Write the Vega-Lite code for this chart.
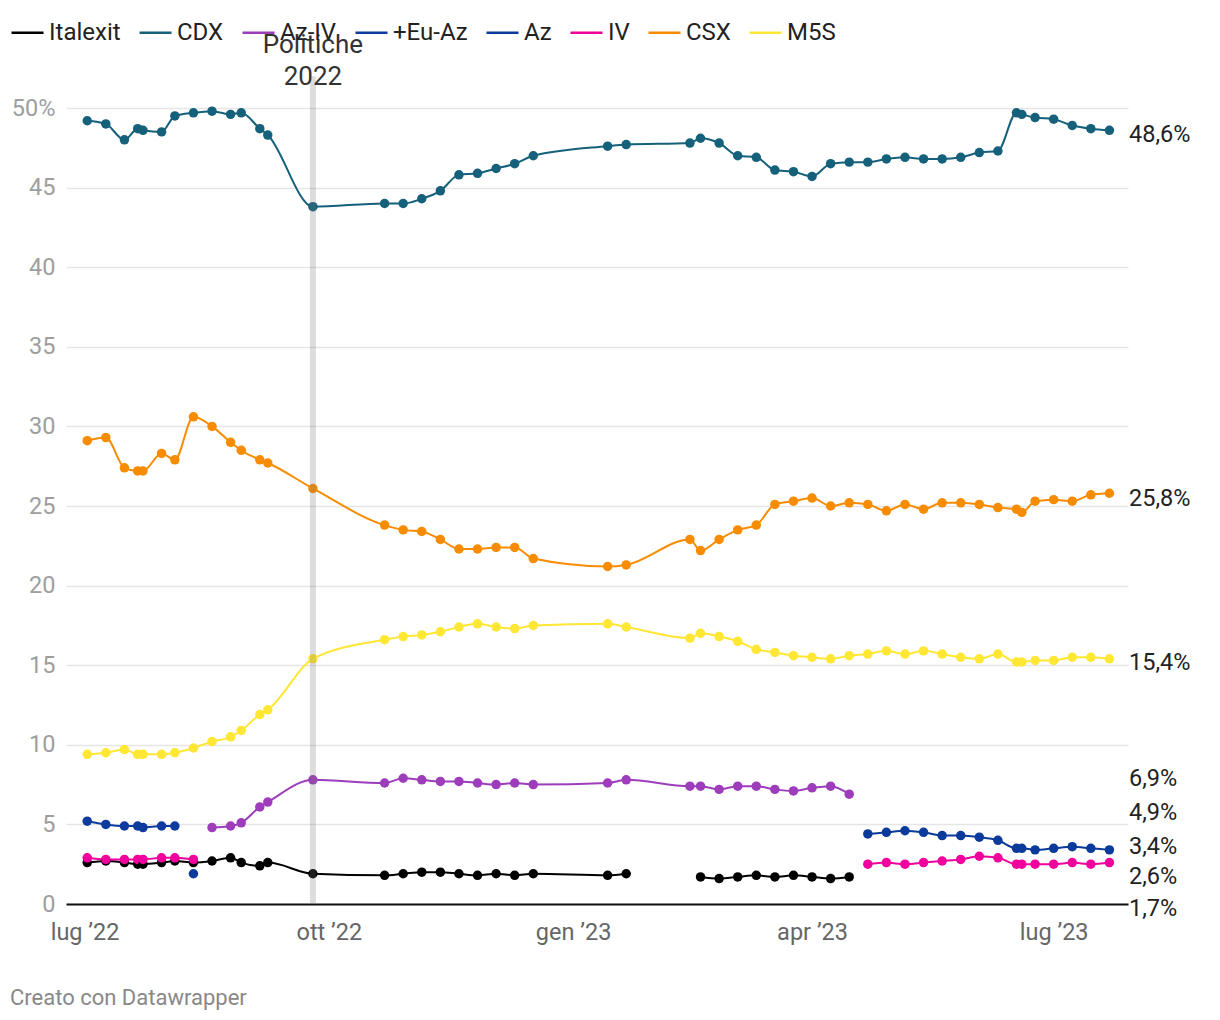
{
  "$schema": "https://vega.github.io/schema/vega-lite/v6.json",
  "width": 1062,
  "height": 796,
  "autosize": {"type": "none"},
  "padding": {"left": 66, "top": 108, "right": 92, "bottom": 116},
  "background": "white",
  "title": {"text": "Creato con Datawrapper", "orient": "bottom", "anchor": "start", "frame": "group", "dx": -56, "offset": 44, "fontSize": 22, "fontWeight": "normal", "color": "#888888", "font": "Roboto"},
  "config": {
    "font": "Roboto",
    "view": {"stroke": null},
    "text": {"font": "Roboto", "fontSize": 23.5, "color": "#222222", "align": "left", "baseline": "middle"},
    "legend": {"orient": "none", "legendX": -56, "legendY": -93, "direction": "horizontal", "symbolType": "stroke", "symbolSize": 1024, "symbolStrokeWidth": 2.5, "labelFontSize": 24, "labelColor": "#222222", "labelOffset": 4, "columnPadding": 13, "labelFont": "Roboto", "padding": 0}
  },
  "datasets": {
    "polls": [
      {"d": "2022-07-02", "Italexit": 2.6, "CDX": 49.2, "+Eu-Az": 5.2, "IV": 2.9, "CSX": 29.1, "M5S": 9.4},
      {"d": "2022-07-09", "Italexit": 2.7, "CDX": 49.0, "+Eu-Az": 5.0, "IV": 2.8, "CSX": 29.3, "M5S": 9.5},
      {"d": "2022-07-16", "Italexit": 2.6, "CDX": 48.0, "+Eu-Az": 4.9, "IV": 2.8, "CSX": 27.4, "M5S": 9.7},
      {"d": "2022-07-21", "Italexit": 2.5, "CDX": 48.7, "+Eu-Az": 4.9, "IV": 2.8, "CSX": 27.2, "M5S": 9.4},
      {"d": "2022-07-23", "Italexit": 2.5, "CDX": 48.6, "+Eu-Az": 4.8, "IV": 2.8, "CSX": 27.2, "M5S": 9.4},
      {"d": "2022-07-30", "Italexit": 2.6, "CDX": 48.5, "+Eu-Az": 4.9, "IV": 2.9, "CSX": 28.3, "M5S": 9.4},
      {"d": "2022-08-04", "Italexit": 2.7, "CDX": 49.5, "+Eu-Az": 4.9, "IV": 2.9, "CSX": 27.9, "M5S": 9.5},
      {"d": "2022-08-11", "Italexit": 2.6, "CDX": 49.7, "Az": 1.9, "IV": 2.8, "CSX": 30.6, "M5S": 9.8},
      {"d": "2022-08-18", "Italexit": 2.7, "CDX": 49.8, "Az-IV": 4.8, "CSX": 30.0, "M5S": 10.2},
      {"d": "2022-08-25", "Italexit": 2.9, "CDX": 49.6, "Az-IV": 4.9, "CSX": 29.0, "M5S": 10.5},
      {"d": "2022-08-29", "Italexit": 2.6, "CDX": 49.7, "Az-IV": 5.1, "CSX": 28.5, "M5S": 10.9},
      {"d": "2022-09-05", "Italexit": 2.4, "CDX": 48.7, "Az-IV": 6.1, "CSX": 27.9, "M5S": 11.9},
      {"d": "2022-09-08", "Italexit": 2.6, "CDX": 48.3, "Az-IV": 6.4, "CSX": 27.7, "M5S": 12.2},
      {"d": "2022-09-25", "Italexit": 1.9, "CDX": 43.8, "Az-IV": 7.8, "CSX": 26.1, "M5S": 15.4},
      {"d": "2022-10-22", "Italexit": 1.8, "CDX": 44.0, "Az-IV": 7.6, "CSX": 23.8, "M5S": 16.6},
      {"d": "2022-10-29", "Italexit": 1.9, "CDX": 44.0, "Az-IV": 7.9, "CSX": 23.5, "M5S": 16.8},
      {"d": "2022-11-05", "Italexit": 2.0, "CDX": 44.3, "Az-IV": 7.8, "CSX": 23.4, "M5S": 16.9},
      {"d": "2022-11-12", "Italexit": 2.0, "CDX": 44.8, "Az-IV": 7.7, "CSX": 22.9, "M5S": 17.1},
      {"d": "2022-11-19", "Italexit": 1.9, "CDX": 45.8, "Az-IV": 7.7, "CSX": 22.3, "M5S": 17.4},
      {"d": "2022-11-26", "Italexit": 1.8, "CDX": 45.9, "Az-IV": 7.6, "CSX": 22.3, "M5S": 17.6},
      {"d": "2022-12-03", "Italexit": 1.9, "CDX": 46.2, "Az-IV": 7.5, "CSX": 22.4, "M5S": 17.4},
      {"d": "2022-12-10", "Italexit": 1.8, "CDX": 46.5, "Az-IV": 7.6, "CSX": 22.4, "M5S": 17.3},
      {"d": "2022-12-17", "Italexit": 1.9, "CDX": 47.0, "Az-IV": 7.5, "CSX": 21.7, "M5S": 17.5},
      {"d": "2023-01-14", "Italexit": 1.8, "CDX": 47.6, "Az-IV": 7.6, "CSX": 21.2, "M5S": 17.6},
      {"d": "2023-01-21", "Italexit": 1.9, "CDX": 47.7, "Az-IV": 7.8, "CSX": 21.3, "M5S": 17.4},
      {"d": "2023-02-14", "CDX": 47.8, "Az-IV": 7.4, "CSX": 22.9, "M5S": 16.7},
      {"d": "2023-02-18", "Italexit": 1.7, "CDX": 48.1, "Az-IV": 7.4, "CSX": 22.2, "M5S": 17.0},
      {"d": "2023-02-25", "Italexit": 1.6, "CDX": 47.8, "Az-IV": 7.2, "CSX": 22.9, "M5S": 16.8},
      {"d": "2023-03-04", "Italexit": 1.7, "CDX": 47.0, "Az-IV": 7.4, "CSX": 23.5, "M5S": 16.5},
      {"d": "2023-03-11", "Italexit": 1.8, "CDX": 46.9, "Az-IV": 7.4, "CSX": 23.8, "M5S": 16.0},
      {"d": "2023-03-18", "Italexit": 1.7, "CDX": 46.1, "Az-IV": 7.2, "CSX": 25.1, "M5S": 15.8},
      {"d": "2023-03-25", "Italexit": 1.8, "CDX": 46.0, "Az-IV": 7.1, "CSX": 25.3, "M5S": 15.6},
      {"d": "2023-04-01", "Italexit": 1.7, "CDX": 45.7, "Az-IV": 7.3, "CSX": 25.5, "M5S": 15.5},
      {"d": "2023-04-08", "Italexit": 1.6, "CDX": 46.5, "Az-IV": 7.4, "CSX": 25.0, "M5S": 15.4},
      {"d": "2023-04-15", "Italexit": 1.7, "CDX": 46.6, "Az-IV": 6.9, "CSX": 25.2, "M5S": 15.6},
      {"d": "2023-04-22", "CDX": 46.6, "Az": 4.4, "IV": 2.5, "CSX": 25.1, "M5S": 15.7},
      {"d": "2023-04-29", "CDX": 46.8, "Az": 4.5, "IV": 2.6, "CSX": 24.7, "M5S": 15.9},
      {"d": "2023-05-06", "CDX": 46.9, "Az": 4.6, "IV": 2.5, "CSX": 25.1, "M5S": 15.7},
      {"d": "2023-05-13", "CDX": 46.8, "Az": 4.5, "IV": 2.6, "CSX": 24.8, "M5S": 15.9},
      {"d": "2023-05-20", "CDX": 46.8, "Az": 4.3, "IV": 2.7, "CSX": 25.2, "M5S": 15.7},
      {"d": "2023-05-27", "CDX": 46.9, "Az": 4.3, "IV": 2.8, "CSX": 25.2, "M5S": 15.5},
      {"d": "2023-06-03", "CDX": 47.2, "Az": 4.2, "IV": 3.0, "CSX": 25.1, "M5S": 15.4},
      {"d": "2023-06-10", "CDX": 47.3, "Az": 4.0, "IV": 2.9, "CSX": 24.9, "M5S": 15.7},
      {"d": "2023-06-17", "CDX": 49.7, "Az": 3.5, "IV": 2.5, "CSX": 24.8, "M5S": 15.2},
      {"d": "2023-06-19", "CDX": 49.6, "Az": 3.5, "IV": 2.5, "CSX": 24.6, "M5S": 15.2},
      {"d": "2023-06-24", "CDX": 49.4, "Az": 3.4, "IV": 2.5, "CSX": 25.3, "M5S": 15.3},
      {"d": "2023-07-01", "CDX": 49.3, "Az": 3.5, "IV": 2.5, "CSX": 25.4, "M5S": 15.3},
      {"d": "2023-07-08", "CDX": 48.9, "Az": 3.6, "IV": 2.6, "CSX": 25.3, "M5S": 15.5},
      {"d": "2023-07-15", "CDX": 48.7, "Az": 3.5, "IV": 2.5, "CSX": 25.7, "M5S": 15.5},
      {"d": "2023-07-22", "CDX": 48.6, "Az": 3.4, "IV": 2.6, "CSX": 25.8, "M5S": 15.4}
    ]
  },
  "data": {"name": "polls"},
  "encoding": {
    "x": {
      "field": "d", "type": "temporal",
      "scale": {"domain": [{"year": 2022, "month": 6, "date": 24}, {"year": 2023, "month": 7, "date": 29}]},
      "axis": {
        "title": null, "grid": false, "ticks": false, "domain": true, "domainColor": "#111111", "domainWidth": 2,
        "labelPadding": 16, "labelFontSize": 23.5, "labelColor": "#666666", "labelFlush": false, "labelFont": "Roboto",
        "values": [{"year": 2022, "month": 7, "date": 1}, {"year": 2022, "month": 10, "date": 1}, {"year": 2023, "month": 1, "date": 1}, {"year": 2023, "month": 4, "date": 1}, {"year": 2023, "month": 7, "date": 1}],
        "labelExpr": "['gen','feb','mar','apr','mag','giu','lug','ago','set','ott','nov','dic'][month(datum.value)] + ' ’' + timeFormat(datum.value, '%y')"
      }
    }
  },
  "layer": [
    {
      "transform": [{"fold": ["Italexit", "CDX", "Az-IV", "+Eu-Az", "Az", "IV", "CSX", "M5S"], "as": ["key", "value"]}],
      "layer": [
        {
          "mark": {"type": "line", "interpolate": "monotone", "strokeWidth": 2, "invalid": "break-paths-show-domains"},
          "encoding": {
            "y": {
              "field": "value", "type": "quantitative",
              "scale": {"domain": [0, 50], "nice": false, "zero": true},
              "axis": {
                "title": null, "domain": false, "ticks": false, "grid": true, "gridColor": "#e5e5e5", "gridWidth": 1.5,
                "values": [0, 5, 10, 15, 20, 25, 30, 35, 40, 45, 50],
                "labelPadding": 11, "labelFontSize": 23.5, "labelColor": "#9e9e9e", "labelFont": "Roboto",
                "labelExpr": "datum.value == 50 ? '50%' : datum.label"
              }
            },
            "color": {
              "field": "key", "type": "nominal",
              "scale": {"domain": ["Italexit", "CDX", "Az-IV", "+Eu-Az", "Az", "IV", "CSX", "M5S"], "range": ["#000000", "#15607a", "#9d3dbb", "#0d3c9e", "#0a3a9a", "#f0009c", "#f88c00", "#ffe733"]},
              "legend": {"title": null}
            }
          }
        },
        {
          "transform": [{"filter": "isValid(datum.value)"}],
          "mark": {"type": "circle", "size": 90, "opacity": 1},
          "encoding": {
            "y": {"field": "value", "type": "quantitative"},
            "color": {"field": "key", "type": "nominal", "legend": null}
          }
        },
        {
          "transform": [
            {"filter": "isValid(datum.value)"},
            {"window": [{"op": "row_number", "as": "rn"}], "sort": [{"field": "d", "order": "descending"}], "groupby": ["key"]},
            {"filter": "datum.rn == 1"},
            {"calculate": "replace(format(datum.value, '.1f'), '.', ',') + '%'", "as": "lbl"}
          ],
          "encoding": {
            "x": {"datum": {"year": 2023, "month": 7, "date": 29}, "type": "temporal"},
            "y": {"field": "value", "type": "quantitative"},
            "text": {"field": "lbl"}
          },
          "layer": [
            {"transform": [{"filter": "datum.key == 'CDX'"}], "mark": {"type": "text", "dx": 1, "dy": 5}},
            {"transform": [{"filter": "datum.key == 'CSX'"}], "mark": {"type": "text", "dx": 1, "dy": 6}},
            {"transform": [{"filter": "datum.key == 'M5S'"}], "mark": {"type": "text", "dx": 1, "dy": 4}},
            {"transform": [{"filter": "datum.key == 'Az-IV'"}], "mark": {"type": "text", "dx": 1, "dy": -15}},
            {"transform": [{"filter": "datum.key == '+Eu-Az'"}], "mark": {"type": "text", "dx": 1, "dy": -13}},
            {"transform": [{"filter": "datum.key == 'Az'"}], "mark": {"type": "text", "dx": 1, "dy": -3}},
            {"transform": [{"filter": "datum.key == 'IV'"}], "mark": {"type": "text", "dx": 1, "dy": 14}},
            {"transform": [{"filter": "datum.key == 'Italexit'"}], "mark": {"type": "text", "dx": 1, "dy": 32}}
          ]
        }
      ]
    },
    {
      "transform": [{"filter": "utcFormat(toDate(datum.d), '%Y-%m-%d') == '2022-09-25'"}],
      "mark": {"type": "rule", "strokeWidth": 6, "color": "#777777", "opacity": 0.25},
      "encoding": {
        "y": {"datum": 52, "type": "quantitative"},
        "y2": {"datum": 0}
      }
    },
    {
      "transform": [{"filter": "utcFormat(toDate(datum.d), '%Y-%m-%d') == '2022-09-25'"}],
      "mark": {"type": "text", "text": ["Politiche", "2022"], "align": "center", "baseline": "alphabetic", "lineHeight": 32, "fontSize": 26, "color": "#333333", "font": "Roboto"},
      "encoding": {
        "y": {"datum": 53.45, "type": "quantitative"}
      }
    }
  ]
}
